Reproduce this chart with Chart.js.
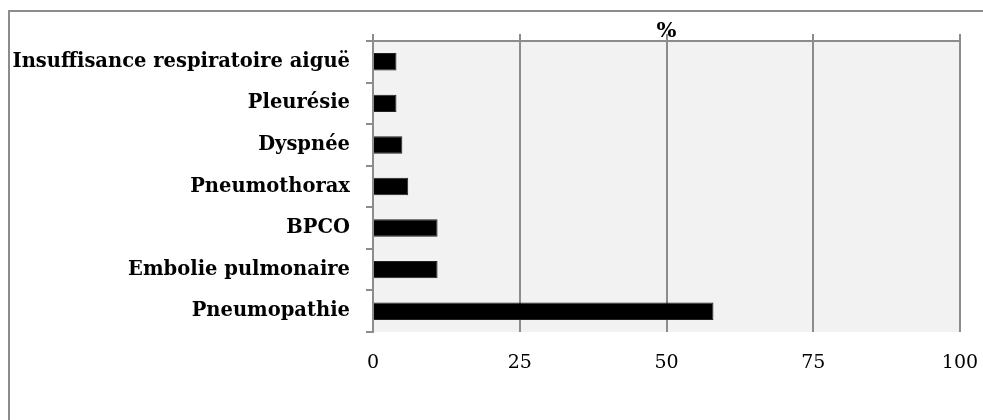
<!DOCTYPE html>
<html>
<head>
<meta charset="utf-8">
<script src="https://cdn.jsdelivr.net/npm/chart.js@4"></script>
<style>
  html, body { margin: 0; padding: 0; background: #fff; overflow: hidden; }
  #wrap { width: 983px; height: 420px; }
</style>
</head>
<body>
<div id="wrap"><canvas id="chart" width="983" height="420"></canvas></div>
<script>
// data
const categories = ['Insuffisance respiratoire aiguë', 'Pleurésie', 'Dyspnée', 'Pneumothorax', 'BPCO', 'Embolie pulmonaire', 'Pneumopathie'];
const percentValues = [4, 4, 5, 6, 11, 11, 58];
const xTicks = [0, 25, 50, 75, 100];
const axisTitle = '%';

const gridGrey = '#8c8c8c';
const serif = 'DejaVu Serif';

// plot background + outer frame (only left and top edges are in view)
const frame = {
  id: 'frame',
  beforeDraw(chart) {
    const ctx = chart.ctx;
    const a = chart.chartArea;
    ctx.save();
    ctx.fillStyle = '#f2f2f2';
    ctx.fillRect(a.left, a.top, a.right - a.left, a.bottom - a.top);
    ctx.strokeStyle = gridGrey;
    ctx.lineWidth = 2;
    ctx.beginPath();
    ctx.moveTo(9, chart.height);
    ctx.lineTo(9, 11);
    ctx.lineTo(chart.width, 11);
    ctx.stroke();
    ctx.restore();
  }
};

const ctx = document.getElementById('chart').getContext('2d');
const chart = new Chart(ctx, {
  type: 'bar',
  data: {
    labels: categories,
    datasets: [{
      data: percentValues,
      backgroundColor: '#000000',
      borderColor: '#222222',
      borderWidth: 1,
      categoryPercentage: 1,
      barPercentage: 0.42,
      xAxisID: 'x'
    }]
  },
  options: {
    indexAxis: 'y',
    responsive: false,
    animation: false,
    layout: { padding: { left: 0, right: 23, top: 0, bottom: 0 } },
    plugins: { legend: { display: false }, tooltip: { enabled: false } },
    scales: {
      x: {
        position: 'bottom',
        min: 0, max: 100,
        afterBuildTicks: (s) => { s.ticks = xTicks.map(v => ({ value: v })); },
        afterFit: (s) => { s.height = 88; s.paddingLeft = 0; s.paddingRight = 0; },
        grid: { color: gridGrey, lineWidth: 2, drawTicks: false },
        border: { display: false },
        ticks: { color: '#000', padding: 20, font: { family: serif, size: 19 } }
      },
      x2: {
        position: 'top',
        min: 0, max: 100,
        afterBuildTicks: (s) => { s.ticks = xTicks.map(v => ({ value: v })); },
        afterFit: (s) => { s.height = 41; s.paddingLeft = 0; s.paddingRight = 0; },
        grid: { color: gridGrey, lineWidth: 2, drawOnChartArea: false, drawTicks: true, tickLength: 7 },
        border: { display: true, color: gridGrey, width: 2 },
        ticks: { display: false },
        title: {
          display: true, text: axisTitle, color: '#000',
          padding: { top: 19, bottom: 0 },
          font: { family: serif, size: 21, weight: 'bold' }
        }
      },
      y: {
        position: 'left',
        afterFit: (s) => { s.width = 373; },
        grid: { color: gridGrey, lineWidth: 2, offset: true, drawOnChartArea: false, tickLength: 7 },
        border: { display: true, color: gridGrey, width: 2 },
        ticks: { color: '#000', padding: 16, font: { family: serif, size: 19.5, weight: 'bold' } }
      }
    }
  },
  plugins: [frame]
});
</script>
</body>
</html>
